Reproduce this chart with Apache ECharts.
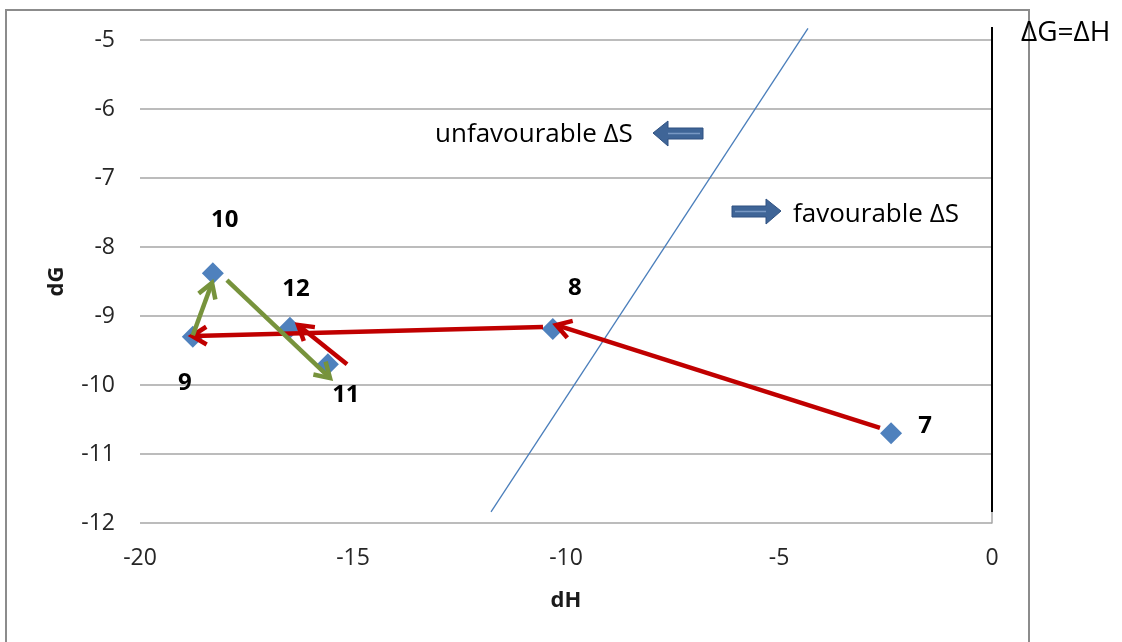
<!DOCTYPE html>
<html>
<head>
<meta charset="utf-8">
<script src="https://cdn.jsdelivr.net/npm/echarts@6/dist/echarts.min.js"></script>
<style>
  html, body { margin: 0; padding: 0; background: #fff; }
  #chart { width: 1122px; height: 642px; }
</style>
</head>
<body>
<div id="chart"></div>
<script>
// Measured points (numbered states)
const pointNames = ['7', '8', '9', '10', '11', '12'];
const dH = [-2.37, -10.31, -18.76, -18.29, -15.59, -16.48];
const dG = [-10.70, -9.19, -9.30, -8.38, -9.70, -9.17];

// Transition arrows: start (dH, dG) -> end (dH, dG)
const arrowFromH = [-2.63, -10.54, -15.14, -18.76, -17.96];
const arrowFromG = [-10.62, -9.16, -9.70, -9.28, -8.48];
const arrowToH   = [-10.23, -18.78, -16.29, -18.31, -15.54];
const arrowToG   = [-9.13, -9.29, -9.13, -8.52, -9.90];
const arrowKind  = ['red', 'red', 'red', 'green', 'green'];

// Reference line separating favourable / unfavourable entropy
const refLineH = [-11.76, -4.32];
const refLineG = [-11.84, -4.83];

// ΔG = ΔH boundary (dH = 0)
const eqLineH = [0, 0];
const eqLineG = [-11.84, -4.81];

// Axis ticks
const xTicks = [-20, -15, -10, -5, 0];
const yTicks = [-12, -11, -10, -9, -8, -7, -6, -5];

const FONT = '"Open Sans", Lato, sans-serif';
const arrowColors = { red: '#c00000', green: '#77933c' };
const labelOffsets = { '7': [34, -7], '8': [22, -41], '9': [-8, 46], '10': [12, -53], '11': [18, 31], '12': [6, -39] };

const chart = echarts.init(document.getElementById('chart'), null, { renderer: 'canvas' });

const pointData = pointNames.map((n, i) => ({
  name: n,
  value: [dH[i], dG[i]],
  label: { offset: labelOffsets[n] }
}));

const arrowData = arrowKind.map((k, i) => [arrowFromH[i], arrowFromG[i], arrowToH[i], arrowToG[i], i]);

function renderArrow(params, api) {
  const p1 = api.coord([api.value(0), api.value(1)]);
  const p2 = api.coord([api.value(2), api.value(3)]);
  const color = arrowColors[arrowKind[api.value(4)]];
  const a = Math.atan2(p2[1] - p1[1], p2[0] - p1[0]);
  const L = 17, s = 0.55;
  const w1 = [p2[0] - L * Math.cos(a - s), p2[1] - L * Math.sin(a - s)];
  const w2 = [p2[0] - L * Math.cos(a + s), p2[1] - L * Math.sin(a + s)];
  return {
    type: 'group',
    children: [
      { type: 'line', shape: { x1: p1[0], y1: p1[1], x2: p2[0] - 2 * Math.cos(a), y2: p2[1] - 2 * Math.sin(a) },
        style: { stroke: color, lineWidth: 4.5 } },
      { type: 'polyline', shape: { points: [w1, p2, w2] },
        style: { stroke: color, lineWidth: 4.5, fill: null, lineJoin: 'miter' } }
    ]
  };
}

function blockArrow(points, id) {
  return {
    type: 'polygon', id: id,
    shape: { points: points },
    style: { fill: '#3f6597', stroke: '#2f5181', lineWidth: 1 }
  };
}

chart.setOption({
  animation: false,
  backgroundColor: '#ffffff',
  textStyle: { fontFamily: FONT },
  grid: { left: 140, right: 130, top: 40, bottom: 119, containLabel: false },
  xAxis: {
    type: 'value', min: xTicks[0], max: xTicks[xTicks.length - 1], interval: 5,
    name: 'dH', nameLocation: 'middle', nameGap: 67,
    nameTextStyle: { fontFamily: FONT, fontWeight: 'bold', fontSize: 22, color: '#1a1a1a' },
    axisLine: { show: false }, axisTick: { show: false }, splitLine: { show: false },
    axisLabel: { fontFamily: FONT, fontSize: 23, color: '#262626', margin: 24 }
  },
  yAxis: {
    type: 'value', min: yTicks[0], max: yTicks[yTicks.length - 1], interval: 1,
    name: 'dG', nameLocation: 'middle', nameGap: 72, nameRotate: 90,
    nameTextStyle: { fontFamily: FONT, fontWeight: 'bold', fontSize: 22, color: '#1a1a1a' },
    axisLine: { show: true, lineStyle: { color: '#a6a6a6', width: 1.5 } },
    axisTick: { show: false },
    splitLine: { show: true, lineStyle: { color: '#a6a6a6', width: 1.5 } },
    axisLabel: { fontFamily: FONT, fontSize: 23, color: '#262626', margin: 25 }
  },
  series: [
    {
      type: 'line', name: 'entropy boundary', clip: false, symbol: 'none',
      data: refLineH.map((h, i) => [h, refLineG[i]]),
      lineStyle: { color: '#4a7ebb', width: 1.3 }, z: 2
    },
    {
      type: 'line', name: 'ΔG=ΔH', clip: false, symbol: 'none',
      data: eqLineH.map((h, i) => [h, eqLineG[i]]),
      lineStyle: { color: '#000000', width: 2 }, z: 2
    },
    {
      type: 'scatter', name: 'states', symbol: 'diamond', symbolSize: 22,
      itemStyle: { color: '#4f81bd', opacity: 1 },
      data: pointData,
      label: {
        show: true, position: 'inside', formatter: '{b}',
        fontFamily: FONT, fontWeight: 'bold', fontSize: 24, color: '#000'
      },
      z: 3
    },
    {
      type: 'custom', name: 'transitions', renderItem: renderArrow,
      encode: { x: [0, 2], y: [1, 3] }, clip: false,
      data: arrowData, z: 4
    }
  ],
  graphic: [
    { type: 'rect', shape: { x: 6, y: 10, width: 1023, height: 640 },
      style: { fill: null, stroke: '#8c8c8c', lineWidth: 2 }, z: -1 },
    blockArrow([[653, 133], [668, 121], [668, 128], [703, 128], [703, 139], [668, 139], [668, 146]], 'leftArrow'),
    { type: 'line', shape: { x1: 668, y1: 133.5, x2: 700, y2: 133.5 }, style: { stroke: '#7898c4', lineWidth: 1.5 } },
    blockArrow([[781, 211], [766, 199], [766, 206], [732, 206], [732, 217], [766, 217], [766, 224]], 'rightArrow'),
    { type: 'line', shape: { x1: 735, y1: 211.5, x2: 766, y2: 211.5 }, style: { stroke: '#7898c4', lineWidth: 1.5 } },
    { type: 'text', x: 435, y: 135,
      style: { text: 'unfavourable ΔS', font: '26px ' + FONT, fill: '#000', textVerticalAlign: 'middle' } },
    { type: 'text', x: 793, y: 215,
      style: { text: 'favourable ΔS', font: '26px ' + FONT, fill: '#000', textVerticalAlign: 'middle' } },
    { type: 'text', x: 1021, y: 33,
      style: { text: 'ΔG=ΔH', font: '28px ' + FONT, fill: '#000', textVerticalAlign: 'middle' } }
  ]
});
</script>
</body>
</html>
